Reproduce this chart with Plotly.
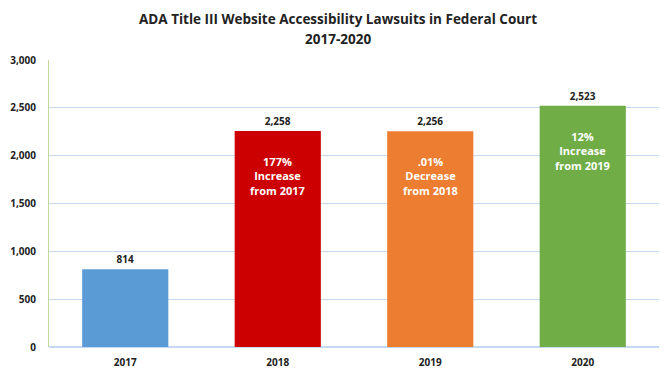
import plotly.graph_objects as go

years = ["2017", "2018", "2019", "2020"]
lawsuits = [814, 2258, 2256, 2523]
notes = ["", "177%<br>Increase<br>from 2017", ".01%<br>Decrease<br>from 2018", "12%<br>Increase<br>from 2019"]
colors = ["#5b9bd5", "#cc0000", "#ed7d31", "#70ad47"]
y_ticks = [0, 500, 1000, 1500, 2000, 2500, 3000]
y_tick_labels = ["0", "500", "1,000", "1,500", "2,000", "2,500", "3,000"]
title_lines = ["ADA Title III Website Accessibility Lawsuits in Federal Court", "2017-2020"]

FONT = "Open Sans, Liberation Sans, sans-serif"
pos = list(range(len(years)))

# the page adds an 8px body margin, so the figure is sized to fit the window
W, H = 662, 373
L, R, T, B = 41, 11, 52, 34
plot_w, plot_h = W - L - R, H - T - B

fig = go.Figure()
fig.add_trace(go.Bar(
    x=pos, y=lawsuits, marker=dict(color=colors, line=dict(width=0)),
    width=0.565,
    text=[f"<b>{v:,}</b>" for v in lawsuits], textposition="outside",
    textfont=dict(family=FONT, size=10, color="#222222"),
    cliponaxis=False, hoverinfo="skip",
))

for p, v, n in zip(pos, lawsuits, notes):
    if n:
        fig.add_annotation(x=p, y=v, text="<b>" + n + "</b>", showarrow=False,
                           yanchor="top", yshift=-21,
                           font=dict(family=FONT, size=11, color="white"))

for i, t in enumerate(title_lines):
    fig.add_annotation(x=(330 - L) / plot_w, xref="paper",
                       y=1 + (T - (11 + 20 * i)) / plot_h, yref="paper",
                       text="<b>" + t + "</b>",
                       showarrow=False, xanchor="center", yanchor="middle",
                       font=dict(family=FONT, size=13.5, color="#222222"))

fig.update_layout(
    width=W, height=H,
    margin=dict(l=L, r=R, t=T, b=B, autoexpand=False),
    paper_bgcolor="white", plot_bgcolor="white",
    showlegend=False,
)
fig.update_yaxes(range=[0, 3000], tickvals=y_ticks, ticktext=["<b>%s</b>" % t for t in y_tick_labels],
                 showgrid=True, gridcolor="#c5d9f1", gridwidth=1,
                 showline=True, linecolor="#c4d79b", linewidth=1,
                 zeroline=True, zerolinecolor="#c5d9f1",
                 ticks="", ticklabelstandoff=10, automargin=False,
                 tickfont=dict(family=FONT, size=10, color="#222222"))
fig.update_xaxes(range=[-0.5, 3.5], tickvals=pos,
                 ticktext=["<b>%s</b>" % y for y in years],
                 showgrid=False, showline=False, zeroline=False, ticks="", ticklabelstandoff=8,
                 automargin=False,
                 tickfont=dict(family=FONT, size=10, color="#222222"))

fig.write_html("out.html")
